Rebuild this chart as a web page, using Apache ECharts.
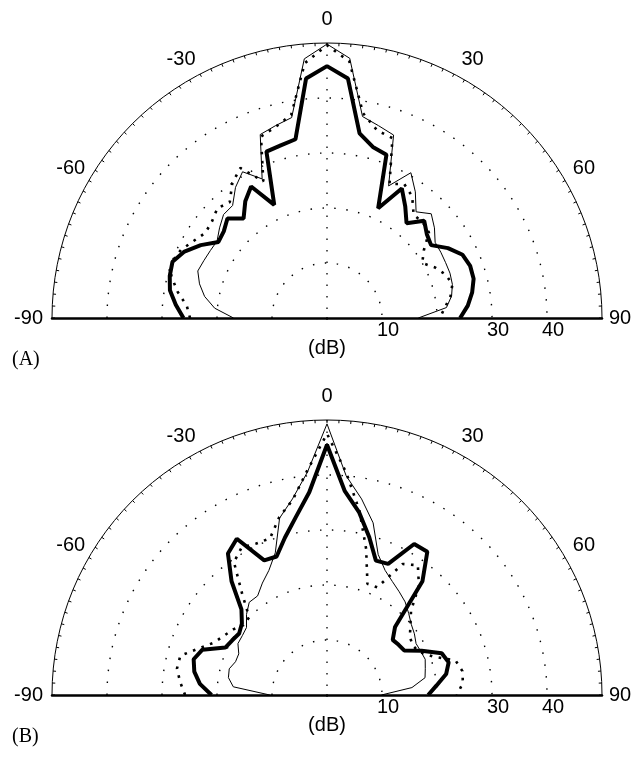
<!DOCTYPE html>
<html lang="en">
<head>
    <meta charset="UTF-8">
    <title>方向图</title>
    <script src="https://cdn.jsdelivr.net/npm/echarts@6/dist/echarts.min.js"></script>
</head>
<body style="margin:0;background:#fff;">
<div id="main" style="width:637px;height:757px;"></div>
<script type="text/javascript">
    // 角度 (度)
    var angles = [-90, -85, -80, -75, -70, -65, -60, -55, -50, -45, -40, -35, -30, -25, -20, -15, -10, -5,
        0, 5, 10, 15, 20, 25, 30, 35, 40, 45, 50, 55, 60, 65, 70, 75, 80, 85, 90];

    // (A) 三条曲线 (dB)
    var aThin = [17.0, 20.5, 22.6, 24.0, 25.0, 24.7, 24.5, 24.4, 25.5, 26.6, 26.7, 29.0, 30.7, 27.9, 35.5, 36.2, 37.0, 47.3,
        49.8, 47.4, 37.2, 36.2, 35.4, 26.5, 30.5, 28.0, 25.2, 26.8, 25.5, 24.0, 23.9, 23.8, 23.8, 23.6, 23.0, 21.8, 16.6];
    var aDot = [24.9, 25.6, 27.6, 29.3, 30.0, 29.3, 28.0, 27.0, 27.3, 28.2, 27.5, 30.0, 31.5, 27.4, 35.1, 36.0, 37.5, 46.5,
        49.6, 46.8, 37.8, 35.3, 34.8, 26.9, 28.1, 27.0, 24.5, 24.6, 24.2, 21.5, 20.0, 21.7, 23.0, 23.6, 22.8, 21.5, 20.5];
    var aThick = [26.1, 27.6, 29.0, 29.6, 29.9, 28.6, 26.5, 24.1, 24.5, 25.6, 23.6, 25.9, 27.6, 22.7, 32.2, 32.5, 33.0, 43.7,
        45.8, 43.7, 34.1, 32.2, 31.6, 22.0, 27.2, 24.8, 22.5, 25.0, 23.7, 23.1, 25.4, 27.2, 27.7, 27.6, 26.8, 25.7, 24.2];

    // (B) 三条曲线 (dB)
    var bThin = [10.4, 17.1, 18.2, 18.4, 17.7, 17.7, 18.7, 18.8, 19.1, 20.7, 22.0, 22.0, 23.5, 25.0, 27.5, 33.3, 36.2, 40.7,
        49.3, 40.0, 36.2, 32.4, 27.2, 25.0, 23.8, 22.9, 22.1, 21.0, 20.0, 19.4, 18.7, 18.8, 19.0, 18.5, 18.1, 15.5, 9.9];
    var bDot = [25.8, 26.8, 27.7, 27.6, 24.8, 22.6, 21.6, 20.8, 19.8, 20.0, 24.0, 29.5, 31.0, 30.4, 30.3, 33.5, 36.0, 41.0,
        47.5, 40.5, 34.0, 27.5, 21.5, 21.6, 27.5, 28.8, 26.0, 21.6, 19.8, 18.4, 18.0, 18.5, 20.5, 24.2, 25.0, 24.8, 23.6];
    var bThick = [21.0, 23.2, 24.5, 25.1, 24.1, 20.4, 19.9, 19.5, 20.2, 22.0, 27.0, 31.4, 32.8, 27.0, 26.8, 29.6, 32.8, 37.0,
        45.5, 37.2, 33.7, 29.7, 26.0, 26.3, 31.7, 31.8, 27.0, 17.5, 15.6, 15.9, 16.2, 19.0, 22.2, 22.9, 22.0, 20.0, 18.4];

    // 半径刻度标签
    var radiusLabels = [10, 30, 40];
    var panelNames = ['(A)', '(B)'];

    var centers = [[327, 318], [327, 695]];
    var R = 275;
    var none = 'rgba(0,0,0,0)';
    var font = 'Liberation Sans';

    // 角度标签微调 (padding: 上 右 下 左)
    var labelPad = {
        '-90': [0, 21, 0, 0], '-60': [0, 14, 8, 0], '-30': [0, 0, 21, 0], '0': [0, 0, 26, 0],
        '30': [0, 0, 21, 3], '60': [0, 0, 8, 18], '90': [0, 0, 0, 19]
    };
    var rich = {};
    Object.keys(labelPad).forEach(function (k) {
        rich['t' + k.replace('-', 'm')] = {
            fontSize: 20, fontFamily: font, color: '#000', padding: labelPad[k]
        };
    });

    var polar = [], angleAxis = [], radiusAxis = [], series = [], graphic = [];

    centers.forEach(function (c) { polar.push({center: c, radius: R}); });
    // 辅助坐标：右侧半径轴 (标签 10 30 40)
    centers.forEach(function (c) { polar.push({center: c, radius: R}); });

    centers.forEach(function (c, i) {
        angleAxis.push({
            polarIndex: i,
            type: 'value',
            min: -90,
            max: 90,
            interval: 30,
            startAngle: 180,
            endAngle: 0,
            clockwise: true,
            axisLine: {show: true, lineStyle: {color: '#000', width: 1}},
            axisTick: {show: true, inside: true, length: 3, lineStyle: {color: '#000', width: 1}},
            minorTick: {show: true, splitNumber: 12, length: 3, lineStyle: {color: '#000', width: 1}},
            axisLabel: {
                show: true, margin: -12, fontSize: 20, color: '#000', fontFamily: font,
                formatter: function (v) { return '{t' + String(v).replace('-', 'm') + '|' + v + '}'; },
                rich: rich
            },
            splitLine: {
                show: true,
                lineStyle: {color: [none, none, none, '#000', none, none, none], width: 1.3, type: [1.5, 10]}
            }
        });
        radiusAxis.push({
            polarIndex: i,
            type: 'value',
            min: 0,
            max: 50,
            interval: 10,
            axisLine: {show: true, lineStyle: {color: '#000', width: 2.5}},
            axisTick: {show: false},
            axisLabel: {show: false},
            splitLine: {
                show: true,
                lineStyle: {color: [none, '#000', '#000', '#000', '#000', none], width: 1.4, type: [1.5, 10.5]}
            }
        });
    });
    centers.forEach(function (c, i) {
        angleAxis.push({
            polarIndex: i + 2, type: 'value', min: -90, max: 90,
            startAngle: 0, endAngle: 180, show: false
        });
        radiusAxis.push({
            polarIndex: i + 2,
            type: 'value',
            min: 0,
            max: 50,
            interval: 10,
            axisLine: {show: true, lineStyle: {color: '#000', width: 2.5}},
            axisTick: {show: false},
            splitLine: {show: false},
            axisLabel: {
                show: true, margin: -2, align: 'center', verticalAlign: 'top',
                fontSize: 20, color: '#000', fontFamily: font, padding: [0, 0, 0, 12],
                formatter: function (v) { return radiusLabels.indexOf(v) >= 0 ? String(v) : ''; }
            }
        });
        graphic.push({
            type: 'text', x: c[0], y: c[1] + 30,
            style: {text: '(dB)', align: 'center', verticalAlign: 'middle', font: '20px "Liberation Sans"', fill: '#000'}
        });
        graphic.push({
            type: 'text', x: 12, y: c[1] + 42,
            style: {text: panelNames[i], align: 'left', verticalAlign: 'middle', font: '20px "Liberation Serif"', fill: '#000'}
        });
    });

    function curve(pi, vals, style) {
        return {
            type: 'line',
            coordinateSystem: 'polar',
            polarIndex: pi,
            data: angles.map(function (a, k) { return [vals[k], a]; }),
            symbol: 'none',
            silent: true,
            lineStyle: style
        };
    }
    var thin = {color: '#000', width: 1};
    var dots = {color: '#000', width: 2.6, type: [2.6, 6.5]};
    var thick = {color: '#000', width: 4};

    series.push(curve(0, aThin, thin), curve(0, aDot, dots), curve(0, aThick, thick));
    series.push(curve(1, bThin, thin), curve(1, bDot, dots), curve(1, bThick, thick));

    var myChart = echarts.init(document.getElementById('main'));
    myChart.setOption({
        animation: false,
        polar: polar,
        angleAxis: angleAxis,
        radiusAxis: radiusAxis,
        graphic: graphic,
        series: series
    });
</script>
</body>
</html>
